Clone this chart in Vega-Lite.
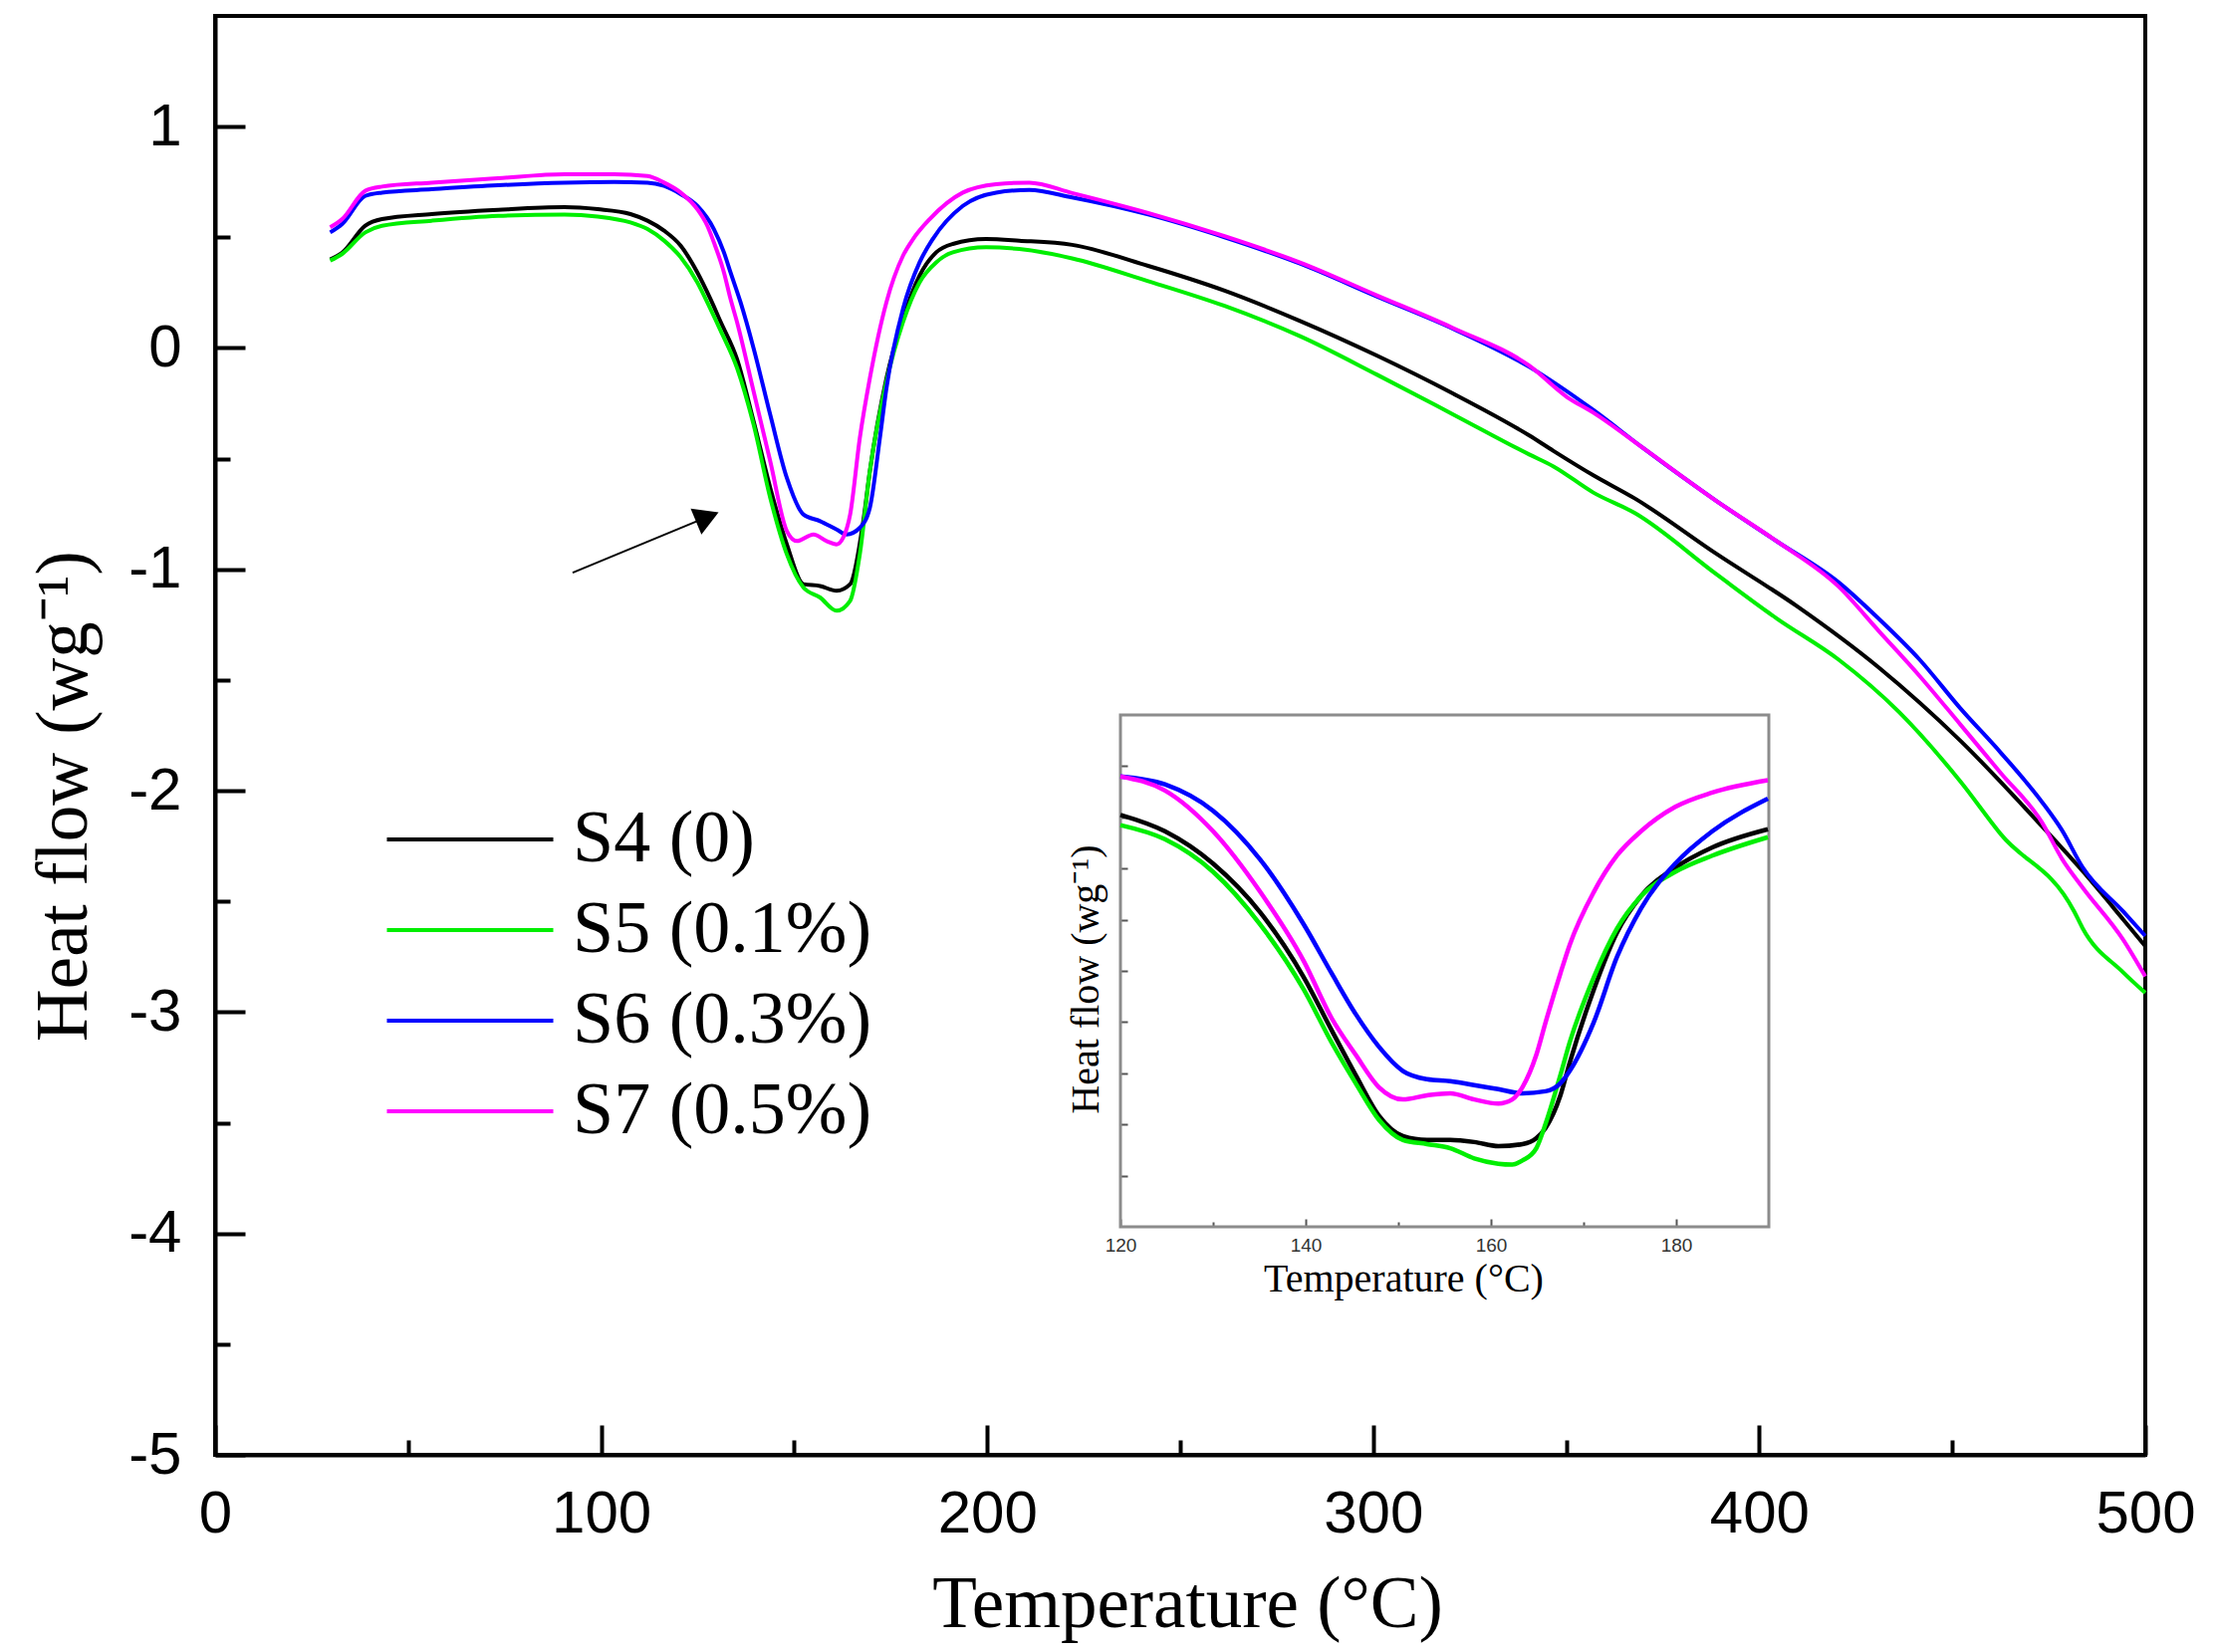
{
  "$schema": "https://vega.github.io/schema/vega-lite/v6.json",
  "width": 1938,
  "height": 1445,
  "autosize": "none",
  "padding": {"left": 216, "top": 16, "right": 72, "bottom": 198},
  "background": "white",
  "config": {
    "view": {"stroke": "black", "strokeWidth": 4},
    "axis": {
      "grid": false,
      "domainColor": "black",
      "domainWidth": 4,
      "tickColor": "black",
      "tickWidth": 4,
      "labelColor": "black",
      "titleColor": "black",
      "labelFont": "Liberation Sans",
      "titleFont": "Liberation Serif",
      "titleFontWeight": "normal",
      "labelOverlap": false,
      "labelFlush": false
    }
  },
  "datasets": {
    "curves": [
      {"sample": "S4 (0)", "temp": 29.8, "hf": 0.40},
      {"sample": "S4 (0)", "temp": 32.9, "hf": 0.43},
      {"sample": "S4 (0)", "temp": 38.9, "hf": 0.552},
      {"sample": "S4 (0)", "temp": 43.2, "hf": 0.582},
      {"sample": "S4 (0)", "temp": 56.1, "hf": 0.605},
      {"sample": "S4 (0)", "temp": 73.3, "hf": 0.624},
      {"sample": "S4 (0)", "temp": 90.5, "hf": 0.636},
      {"sample": "S4 (0)", "temp": 99.1, "hf": 0.627},
      {"sample": "S4 (0)", "temp": 107.6, "hf": 0.605},
      {"sample": "S4 (0)", "temp": 112, "hf": 0.575},
      {"sample": "S4 (0)", "temp": 116.3, "hf": 0.530},
      {"sample": "S4 (0)", "temp": 120.6, "hf": 0.462},
      {"sample": "S4 (0)", "temp": 124.9, "hf": 0.342},
      {"sample": "S4 (0)", "temp": 128.3, "hf": 0.222},
      {"sample": "S4 (0)", "temp": 130.9, "hf": 0.12},
      {"sample": "S4 (0)", "temp": 135.2, "hf": -0.05},
      {"sample": "S4 (0)", "temp": 139.5, "hf": -0.332},
      {"sample": "S4 (0)", "temp": 143.8, "hf": -0.632},
      {"sample": "S4 (0)", "temp": 148.1, "hf": -0.887},
      {"sample": "S4 (0)", "temp": 152.4, "hf": -1.067},
      {"sample": "S4 (0)", "temp": 156.7, "hf": -1.075},
      {"sample": "S4 (0)", "temp": 161.0, "hf": -1.097},
      {"sample": "S4 (0)", "temp": 164.5, "hf": -1.067},
      {"sample": "S4 (0)", "temp": 167.9, "hf": -0.782},
      {"sample": "S4 (0)", "temp": 169.6, "hf": -0.557},
      {"sample": "S4 (0)", "temp": 173.9, "hf": -0.137},
      {"sample": "S4 (0)", "temp": 178.2, "hf": 0.132},
      {"sample": "S4 (0)", "temp": 182.5, "hf": 0.327},
      {"sample": "S4 (0)", "temp": 186.8, "hf": 0.432},
      {"sample": "S4 (0)", "temp": 191.1, "hf": 0.470},
      {"sample": "S4 (0)", "temp": 199.7, "hf": 0.492},
      {"sample": "S4 (0)", "temp": 208.3, "hf": 0.485},
      {"sample": "S4 (0)", "temp": 222, "hf": 0.466},
      {"sample": "S4 (0)", "temp": 241.7, "hf": 0.371},
      {"sample": "S4 (0)", "temp": 261.5, "hf": 0.259},
      {"sample": "S4 (0)", "temp": 281.2, "hf": 0.121},
      {"sample": "S4 (0)", "temp": 300.9, "hf": -0.034},
      {"sample": "S4 (0)", "temp": 320.7, "hf": -0.206},
      {"sample": "S4 (0)", "temp": 340.4, "hf": -0.395},
      {"sample": "S4 (0)", "temp": 346.7, "hf": -0.465},
      {"sample": "S4 (0)", "temp": 357, "hf": -0.575},
      {"sample": "S4 (0)", "temp": 367.8, "hf": -0.68},
      {"sample": "S4 (0)", "temp": 388.9, "hf": -0.930},
      {"sample": "S4 (0)", "temp": 409.9, "hf": -1.168},
      {"sample": "S4 (0)", "temp": 431, "hf": -1.444},
      {"sample": "S4 (0)", "temp": 452.1, "hf": -1.774},
      {"sample": "S4 (0)", "temp": 473.2, "hf": -2.160},
      {"sample": "S4 (0)", "temp": 483.7, "hf": -2.362},
      {"sample": "S4 (0)", "temp": 494.3, "hf": -2.582},
      {"sample": "S4 (0)", "temp": 500, "hf": -2.702},

      {"sample": "S5 (0.1%)", "temp": 29.8, "hf": 0.395},
      {"sample": "S5 (0.1%)", "temp": 32.9, "hf": 0.425},
      {"sample": "S5 (0.1%)", "temp": 38.9, "hf": 0.522},
      {"sample": "S5 (0.1%)", "temp": 43.2, "hf": 0.552},
      {"sample": "S5 (0.1%)", "temp": 56.1, "hf": 0.575},
      {"sample": "S5 (0.1%)", "temp": 73.3, "hf": 0.597},
      {"sample": "S5 (0.1%)", "temp": 90.5, "hf": 0.603},
      {"sample": "S5 (0.1%)", "temp": 99.1, "hf": 0.594},
      {"sample": "S5 (0.1%)", "temp": 107.6, "hf": 0.567},
      {"sample": "S5 (0.1%)", "temp": 112, "hf": 0.537},
      {"sample": "S5 (0.1%)", "temp": 116.3, "hf": 0.485},
      {"sample": "S5 (0.1%)", "temp": 120.6, "hf": 0.410},
      {"sample": "S5 (0.1%)", "temp": 124.9, "hf": 0.297},
      {"sample": "S5 (0.1%)", "temp": 128.3, "hf": 0.177},
      {"sample": "S5 (0.1%)", "temp": 130.9, "hf": 0.08},
      {"sample": "S5 (0.1%)", "temp": 135.2, "hf": -0.09},
      {"sample": "S5 (0.1%)", "temp": 139.5, "hf": -0.347},
      {"sample": "S5 (0.1%)", "temp": 143.8, "hf": -0.677},
      {"sample": "S5 (0.1%)", "temp": 148.1, "hf": -0.932},
      {"sample": "S5 (0.1%)", "temp": 152.4, "hf": -1.082},
      {"sample": "S5 (0.1%)", "temp": 156.7, "hf": -1.127},
      {"sample": "S5 (0.1%)", "temp": 161.0, "hf": -1.187},
      {"sample": "S5 (0.1%)", "temp": 164.5, "hf": -1.142},
      {"sample": "S5 (0.1%)", "temp": 167.0, "hf": -0.932},
      {"sample": "S5 (0.1%)", "temp": 169.6, "hf": -0.557},
      {"sample": "S5 (0.1%)", "temp": 173.9, "hf": -0.152},
      {"sample": "S5 (0.1%)", "temp": 178.2, "hf": 0.117},
      {"sample": "S5 (0.1%)", "temp": 182.5, "hf": 0.297},
      {"sample": "S5 (0.1%)", "temp": 186.8, "hf": 0.387},
      {"sample": "S5 (0.1%)", "temp": 191.1, "hf": 0.432},
      {"sample": "S5 (0.1%)", "temp": 199.7, "hf": 0.455},
      {"sample": "S5 (0.1%)", "temp": 208.3, "hf": 0.447},
      {"sample": "S5 (0.1%)", "temp": 222, "hf": 0.405},
      {"sample": "S5 (0.1%)", "temp": 241.7, "hf": 0.302},
      {"sample": "S5 (0.1%)", "temp": 261.5, "hf": 0.190},
      {"sample": "S5 (0.1%)", "temp": 281.2, "hf": 0.052},
      {"sample": "S5 (0.1%)", "temp": 300.9, "hf": -0.120},
      {"sample": "S5 (0.1%)", "temp": 320.7, "hf": -0.300},
      {"sample": "S5 (0.1%)", "temp": 340.4, "hf": -0.481},
      {"sample": "S5 (0.1%)", "temp": 346.7, "hf": -0.535},
      {"sample": "S5 (0.1%)", "temp": 357, "hf": -0.653},
      {"sample": "S5 (0.1%)", "temp": 367.8, "hf": -0.746},
      {"sample": "S5 (0.1%)", "temp": 388.9, "hf": -1.022},
      {"sample": "S5 (0.1%)", "temp": 404.7, "hf": -1.224},
      {"sample": "S5 (0.1%)", "temp": 420.5, "hf": -1.407},
      {"sample": "S5 (0.1%)", "temp": 436.3, "hf": -1.646},
      {"sample": "S5 (0.1%)", "temp": 452.1, "hf": -1.958},
      {"sample": "S5 (0.1%)", "temp": 462.6, "hf": -2.197},
      {"sample": "S5 (0.1%)", "temp": 481.6, "hf": -2.546},
      {"sample": "S5 (0.1%)", "temp": 483.7, "hf": -2.619},
      {"sample": "S5 (0.1%)", "temp": 494.3, "hf": -2.821},
      {"sample": "S5 (0.1%)", "temp": 500, "hf": -2.913},

      {"sample": "S6 (0.3%)", "temp": 29.8, "hf": 0.522},
      {"sample": "S6 (0.3%)", "temp": 32.9, "hf": 0.560},
      {"sample": "S6 (0.3%)", "temp": 38.9, "hf": 0.687},
      {"sample": "S6 (0.3%)", "temp": 43.2, "hf": 0.702},
      {"sample": "S6 (0.3%)", "temp": 56.1, "hf": 0.717},
      {"sample": "S6 (0.3%)", "temp": 73.3, "hf": 0.735},
      {"sample": "S6 (0.3%)", "temp": 90.5, "hf": 0.747},
      {"sample": "S6 (0.3%)", "temp": 103.4, "hf": 0.750},
      {"sample": "S6 (0.3%)", "temp": 112, "hf": 0.747},
      {"sample": "S6 (0.3%)", "temp": 116.3, "hf": 0.732},
      {"sample": "S6 (0.3%)", "temp": 120.6, "hf": 0.695},
      {"sample": "S6 (0.3%)", "temp": 124.9, "hf": 0.642},
      {"sample": "S6 (0.3%)", "temp": 129.2, "hf": 0.537},
      {"sample": "S6 (0.3%)", "temp": 131.8, "hf": 0.432},
      {"sample": "S6 (0.3%)", "temp": 133.5, "hf": 0.342},
      {"sample": "S6 (0.3%)", "temp": 136.1, "hf": 0.207},
      {"sample": "S6 (0.3%)", "temp": 139.5, "hf": -0.002},
      {"sample": "S6 (0.3%)", "temp": 143.8, "hf": -0.302},
      {"sample": "S6 (0.3%)", "temp": 148.1, "hf": -0.587},
      {"sample": "S6 (0.3%)", "temp": 152.4, "hf": -0.752},
      {"sample": "S6 (0.3%)", "temp": 156.7, "hf": -0.782},
      {"sample": "S6 (0.3%)", "temp": 161.0, "hf": -0.820},
      {"sample": "S6 (0.3%)", "temp": 163.6, "hf": -0.842},
      {"sample": "S6 (0.3%)", "temp": 167.0, "hf": -0.812},
      {"sample": "S6 (0.3%)", "temp": 169.6, "hf": -0.722},
      {"sample": "S6 (0.3%)", "temp": 172.2, "hf": -0.407},
      {"sample": "S6 (0.3%)", "temp": 173.9, "hf": -0.182},
      {"sample": "S6 (0.3%)", "temp": 178.2, "hf": 0.177},
      {"sample": "S6 (0.3%)", "temp": 182.5, "hf": 0.387},
      {"sample": "S6 (0.3%)", "temp": 185.9, "hf": 0.492},
      {"sample": "S6 (0.3%)", "temp": 193.7, "hf": 0.642},
      {"sample": "S6 (0.3%)", "temp": 202.3, "hf": 0.702},
      {"sample": "S6 (0.3%)", "temp": 210.9, "hf": 0.714},
      {"sample": "S6 (0.3%)", "temp": 222, "hf": 0.68},
      {"sample": "S6 (0.3%)", "temp": 241.7, "hf": 0.603},
      {"sample": "S6 (0.3%)", "temp": 261.5, "hf": 0.500},
      {"sample": "S6 (0.3%)", "temp": 281.2, "hf": 0.380},
      {"sample": "S6 (0.3%)", "temp": 300.9, "hf": 0.233},
      {"sample": "S6 (0.3%)", "temp": 320.7, "hf": 0.087},
      {"sample": "S6 (0.3%)", "temp": 340.4, "hf": -0.085},
      {"sample": "S6 (0.3%)", "temp": 357, "hf": -0.28},
      {"sample": "S6 (0.3%)", "temp": 369.9, "hf": -0.452},
      {"sample": "S6 (0.3%)", "temp": 388.9, "hf": -0.691},
      {"sample": "S6 (0.3%)", "temp": 404.7, "hf": -0.875},
      {"sample": "S6 (0.3%)", "temp": 420.5, "hf": -1.058},
      {"sample": "S6 (0.3%)", "temp": 431, "hf": -1.224},
      {"sample": "S6 (0.3%)", "temp": 441.5, "hf": -1.407},
      {"sample": "S6 (0.3%)", "temp": 452.1, "hf": -1.628},
      {"sample": "S6 (0.3%)", "temp": 462.6, "hf": -1.829},
      {"sample": "S6 (0.3%)", "temp": 473.2, "hf": -2.050},
      {"sample": "S6 (0.3%)", "temp": 478.4, "hf": -2.178},
      {"sample": "S6 (0.3%)", "temp": 483.7, "hf": -2.344},
      {"sample": "S6 (0.3%)", "temp": 494.3, "hf": -2.546},
      {"sample": "S6 (0.3%)", "temp": 500, "hf": -2.656},

      {"sample": "S7 (0.5%)", "temp": 29.8, "hf": 0.545},
      {"sample": "S7 (0.5%)", "temp": 32.9, "hf": 0.582},
      {"sample": "S7 (0.5%)", "temp": 38.9, "hf": 0.710},
      {"sample": "S7 (0.5%)", "temp": 43.2, "hf": 0.729},
      {"sample": "S7 (0.5%)", "temp": 56.1, "hf": 0.747},
      {"sample": "S7 (0.5%)", "temp": 73.3, "hf": 0.767},
      {"sample": "S7 (0.5%)", "temp": 90.5, "hf": 0.785},
      {"sample": "S7 (0.5%)", "temp": 103.4, "hf": 0.785},
      {"sample": "S7 (0.5%)", "temp": 112, "hf": 0.777},
      {"sample": "S7 (0.5%)", "temp": 116.3, "hf": 0.747},
      {"sample": "S7 (0.5%)", "temp": 120.6, "hf": 0.702},
      {"sample": "S7 (0.5%)", "temp": 124.9, "hf": 0.627},
      {"sample": "S7 (0.5%)", "temp": 127.5, "hf": 0.552},
      {"sample": "S7 (0.5%)", "temp": 129.2, "hf": 0.477},
      {"sample": "S7 (0.5%)", "temp": 131.8, "hf": 0.342},
      {"sample": "S7 (0.5%)", "temp": 133.5, "hf": 0.222},
      {"sample": "S7 (0.5%)", "temp": 135.2, "hf": 0.117},
      {"sample": "S7 (0.5%)", "temp": 139.5, "hf": -0.197},
      {"sample": "S7 (0.5%)", "temp": 143.8, "hf": -0.512},
      {"sample": "S7 (0.5%)", "temp": 148.1, "hf": -0.827},
      {"sample": "S7 (0.5%)", "temp": 150.7, "hf": -0.872},
      {"sample": "S7 (0.5%)", "temp": 155, "hf": -0.842},
      {"sample": "S7 (0.5%)", "temp": 158.4, "hf": -0.872},
      {"sample": "S7 (0.5%)", "temp": 161, "hf": -0.887},
      {"sample": "S7 (0.5%)", "temp": 162.7, "hf": -0.857},
      {"sample": "S7 (0.5%)", "temp": 164.5, "hf": -0.752},
      {"sample": "S7 (0.5%)", "temp": 167, "hf": -0.407},
      {"sample": "S7 (0.5%)", "temp": 169.6, "hf": -0.137},
      {"sample": "S7 (0.5%)", "temp": 173.9, "hf": 0.207},
      {"sample": "S7 (0.5%)", "temp": 178.2, "hf": 0.417},
      {"sample": "S7 (0.5%)", "temp": 180.8, "hf": 0.492},
      {"sample": "S7 (0.5%)", "temp": 185.1, "hf": 0.582},
      {"sample": "S7 (0.5%)", "temp": 193.7, "hf": 0.702},
      {"sample": "S7 (0.5%)", "temp": 202.3, "hf": 0.740},
      {"sample": "S7 (0.5%)", "temp": 210.9, "hf": 0.747},
      {"sample": "S7 (0.5%)", "temp": 222, "hf": 0.70},
      {"sample": "S7 (0.5%)", "temp": 241.7, "hf": 0.61},
      {"sample": "S7 (0.5%)", "temp": 261.5, "hf": 0.505},
      {"sample": "S7 (0.5%)", "temp": 281.2, "hf": 0.385},
      {"sample": "S7 (0.5%)", "temp": 300.9, "hf": 0.238},
      {"sample": "S7 (0.5%)", "temp": 320.7, "hf": 0.09},
      {"sample": "S7 (0.5%)", "temp": 340.4, "hf": -0.08},
      {"sample": "S7 (0.5%)", "temp": 350.3, "hf": -0.223},
      {"sample": "S7 (0.5%)", "temp": 357, "hf": -0.292},
      {"sample": "S7 (0.5%)", "temp": 369.9, "hf": -0.452},
      {"sample": "S7 (0.5%)", "temp": 388.9, "hf": -0.691},
      {"sample": "S7 (0.5%)", "temp": 404.7, "hf": -0.875},
      {"sample": "S7 (0.5%)", "temp": 420.5, "hf": -1.077},
      {"sample": "S7 (0.5%)", "temp": 431, "hf": -1.279},
      {"sample": "S7 (0.5%)", "temp": 441.5, "hf": -1.481},
      {"sample": "S7 (0.5%)", "temp": 452.1, "hf": -1.701},
      {"sample": "S7 (0.5%)", "temp": 462.6, "hf": -1.921},
      {"sample": "S7 (0.5%)", "temp": 473.2, "hf": -2.142},
      {"sample": "S7 (0.5%)", "temp": 478.4, "hf": -2.307},
      {"sample": "S7 (0.5%)", "temp": 483.7, "hf": -2.436},
      {"sample": "S7 (0.5%)", "temp": 494.3, "hf": -2.674},
      {"sample": "S7 (0.5%)", "temp": 500, "hf": -2.839}
    ],
    "zoom": [
      {"sample": "S4 (0)", "temp": 120, "hf": 0.512},
      {"sample": "S4 (0)", "temp": 124.8, "hf": 0.432},
      {"sample": "S4 (0)", "temp": 130, "hf": 0.274},
      {"sample": "S4 (0)", "temp": 135.1, "hf": 0.035},
      {"sample": "S4 (0)", "temp": 139.8, "hf": -0.282},
      {"sample": "S4 (0)", "temp": 142.8, "hf": -0.540},
      {"sample": "S4 (0)", "temp": 145.4, "hf": -0.759},
      {"sample": "S4 (0)", "temp": 147.9, "hf": -0.957},
      {"sample": "S4 (0)", "temp": 150.5, "hf": -1.057},
      {"sample": "S4 (0)", "temp": 153.1, "hf": -1.076},
      {"sample": "S4 (0)", "temp": 155.6, "hf": -1.076},
      {"sample": "S4 (0)", "temp": 158.2, "hf": -1.086},
      {"sample": "S4 (0)", "temp": 160.8, "hf": -1.106},
      {"sample": "S4 (0)", "temp": 163.4, "hf": -1.096},
      {"sample": "S4 (0)", "temp": 164.9, "hf": -1.067},
      {"sample": "S4 (0)", "temp": 165.9, "hf": -1.017},
      {"sample": "S4 (0)", "temp": 167.5, "hf": -0.858},
      {"sample": "S4 (0)", "temp": 168.5, "hf": -0.699},
      {"sample": "S4 (0)", "temp": 171.1, "hf": -0.342},
      {"sample": "S4 (0)", "temp": 173.6, "hf": -0.064},
      {"sample": "S4 (0)", "temp": 176.2, "hf": 0.115},
      {"sample": "S4 (0)", "temp": 179.9, "hf": 0.254},
      {"sample": "S4 (0)", "temp": 183.9, "hf": 0.353},
      {"sample": "S4 (0)", "temp": 189.9, "hf": 0.442},

      {"sample": "S5 (0.1%)", "temp": 120, "hf": 0.462},
      {"sample": "S5 (0.1%)", "temp": 124.8, "hf": 0.393},
      {"sample": "S5 (0.1%)", "temp": 130, "hf": 0.234},
      {"sample": "S5 (0.1%)", "temp": 135.1, "hf": -0.024},
      {"sample": "S5 (0.1%)", "temp": 139.8, "hf": -0.342},
      {"sample": "S5 (0.1%)", "temp": 142.8, "hf": -0.600},
      {"sample": "S5 (0.1%)", "temp": 145.4, "hf": -0.799},
      {"sample": "S5 (0.1%)", "temp": 147.9, "hf": -0.977},
      {"sample": "S5 (0.1%)", "temp": 150.5, "hf": -1.076},
      {"sample": "S5 (0.1%)", "temp": 153.1, "hf": -1.096},
      {"sample": "S5 (0.1%)", "temp": 155.6, "hf": -1.116},
      {"sample": "S5 (0.1%)", "temp": 158.2, "hf": -1.166},
      {"sample": "S5 (0.1%)", "temp": 160.8, "hf": -1.192},
      {"sample": "S5 (0.1%)", "temp": 162.3, "hf": -1.196},
      {"sample": "S5 (0.1%)", "temp": 163.4, "hf": -1.176},
      {"sample": "S5 (0.1%)", "temp": 164.9, "hf": -1.116},
      {"sample": "S5 (0.1%)", "temp": 165.9, "hf": -0.997},
      {"sample": "S5 (0.1%)", "temp": 167.5, "hf": -0.759},
      {"sample": "S5 (0.1%)", "temp": 168.5, "hf": -0.600},
      {"sample": "S5 (0.1%)", "temp": 171.1, "hf": -0.282},
      {"sample": "S5 (0.1%)", "temp": 173.6, "hf": -0.044},
      {"sample": "S5 (0.1%)", "temp": 176.2, "hf": 0.115},
      {"sample": "S5 (0.1%)", "temp": 179.9, "hf": 0.234},
      {"sample": "S5 (0.1%)", "temp": 183.9, "hf": 0.313},
      {"sample": "S5 (0.1%)", "temp": 189.9, "hf": 0.403},

      {"sample": "S6 (0.3%)", "temp": 120, "hf": 0.700},
      {"sample": "S6 (0.3%)", "temp": 124.8, "hf": 0.661},
      {"sample": "S6 (0.3%)", "temp": 130, "hf": 0.532},
      {"sample": "S6 (0.3%)", "temp": 135.1, "hf": 0.293},
      {"sample": "S6 (0.3%)", "temp": 139.8, "hf": -0.024},
      {"sample": "S6 (0.3%)", "temp": 142.8, "hf": -0.262},
      {"sample": "S6 (0.3%)", "temp": 145.4, "hf": -0.461},
      {"sample": "S6 (0.3%)", "temp": 147.9, "hf": -0.620},
      {"sample": "S6 (0.3%)", "temp": 150.5, "hf": -0.739},
      {"sample": "S6 (0.3%)", "temp": 153.1, "hf": -0.779},
      {"sample": "S6 (0.3%)", "temp": 155.6, "hf": -0.789},
      {"sample": "S6 (0.3%)", "temp": 158.2, "hf": -0.808},
      {"sample": "S6 (0.3%)", "temp": 160.8, "hf": -0.828},
      {"sample": "S6 (0.3%)", "temp": 163.4, "hf": -0.848},
      {"sample": "S6 (0.3%)", "temp": 165.9, "hf": -0.838},
      {"sample": "S6 (0.3%)", "temp": 167.5, "hf": -0.799},
      {"sample": "S6 (0.3%)", "temp": 168.5, "hf": -0.739},
      {"sample": "S6 (0.3%)", "temp": 171.1, "hf": -0.501},
      {"sample": "S6 (0.3%)", "temp": 173.6, "hf": -0.183},
      {"sample": "S6 (0.3%)", "temp": 176.2, "hf": 0.055},
      {"sample": "S6 (0.3%)", "temp": 179.9, "hf": 0.274},
      {"sample": "S6 (0.3%)", "temp": 183.9, "hf": 0.432},
      {"sample": "S6 (0.3%)", "temp": 189.9, "hf": 0.591},

      {"sample": "S7 (0.5%)", "temp": 120, "hf": 0.700},
      {"sample": "S7 (0.5%)", "temp": 124.8, "hf": 0.631},
      {"sample": "S7 (0.5%)", "temp": 130, "hf": 0.432},
      {"sample": "S7 (0.5%)", "temp": 135.1, "hf": 0.135},
      {"sample": "S7 (0.5%)", "temp": 139.8, "hf": -0.203},
      {"sample": "S7 (0.5%)", "temp": 142.8, "hf": -0.481},
      {"sample": "S7 (0.5%)", "temp": 145.4, "hf": -0.660},
      {"sample": "S7 (0.5%)", "temp": 147.9, "hf": -0.818},
      {"sample": "S7 (0.5%)", "temp": 150.5, "hf": -0.878},
      {"sample": "S7 (0.5%)", "temp": 153.1, "hf": -0.858},
      {"sample": "S7 (0.5%)", "temp": 155.6, "hf": -0.848},
      {"sample": "S7 (0.5%)", "temp": 158.2, "hf": -0.878},
      {"sample": "S7 (0.5%)", "temp": 160.8, "hf": -0.898},
      {"sample": "S7 (0.5%)", "temp": 162.3, "hf": -0.878},
      {"sample": "S7 (0.5%)", "temp": 163.4, "hf": -0.818},
      {"sample": "S7 (0.5%)", "temp": 164.9, "hf": -0.660},
      {"sample": "S7 (0.5%)", "temp": 165.9, "hf": -0.501},
      {"sample": "S7 (0.5%)", "temp": 167.5, "hf": -0.262},
      {"sample": "S7 (0.5%)", "temp": 168.5, "hf": -0.123},
      {"sample": "S7 (0.5%)", "temp": 171.1, "hf": 0.135},
      {"sample": "S7 (0.5%)", "temp": 173.6, "hf": 0.313},
      {"sample": "S7 (0.5%)", "temp": 176.2, "hf": 0.432},
      {"sample": "S7 (0.5%)", "temp": 179.9, "hf": 0.551},
      {"sample": "S7 (0.5%)", "temp": 183.9, "hf": 0.621},
      {"sample": "S7 (0.5%)", "temp": 189.9, "hf": 0.681}
    ],
    "arrow": [{"temp": 92.6, "hf": -1.015, "temp2": 127.5, "hf2": -0.763}],
    "frame": [{"temp": 120, "temp2": 190, "hf": -1.5, "hf2": 1.0}]
  },
  "layer": [
    {
      "layer": [
        {
          "data": {"name": "curves"},
          "mark": {"type": "line", "strokeWidth": 4, "interpolate": "monotone"},
          "encoding": {
            "x": {
              "field": "temp",
              "type": "quantitative",
              "scale": {"domain": [0, 500], "nice": false, "zero": false},
              "axis": {
                "title": "Temperature (°C)",
                "values": [0, 50, 100, 150, 200, 250, 300, 350, 400, 450, 500],
                "labelExpr": "datum.value % 100 === 0 ? datum.label : ''",
                "tickSize": {"condition": {"test": "datum.value % 100 !== 0", "value": -15}, "value": -30},
                "labelFontSize": 60,
                "labelPadding": 60,
                "titleFontSize": 73,
                "titleX": 976,
                "titleY": 172,
                "titleAlign": "center",
                "titleBaseline": "alphabetic"
              }
            },
            "y": {
              "field": "hf",
              "type": "quantitative",
              "scale": {"domain": [-5, 1.5], "nice": false, "zero": false},
              "axis": {
                "title": "Heat flow (wg⁻¹)",
                "values": [-5, -4.5, -4, -3.5, -3, -2.5, -2, -1.5, -1, -0.5, 0, 0.5, 1],
                "labelExpr": "datum.value % 1 === 0 ? '' + datum.value : ''",
                "tickSize": {"condition": {"test": "datum.value % 1 !== 0", "value": -15}, "value": -30},
                "labelFontSize": 60,
                "labelPadding": 64,
                "titleFontSize": 73,
                "titleAngle": 270,
                "titleX": -130,
                "titleY": 783,
                "titleAlign": "center",
                "titleBaseline": "alphabetic"
              }
            },
            "color": {
              "field": "sample",
              "type": "nominal",
              "scale": {
                "domain": ["S4 (0)", "S5 (0.1%)", "S6 (0.3%)", "S7 (0.5%)"],
                "range": ["#000000", "#00ee00", "#0000ff", "#ff00ff"]
              },
              "legend": {
                "orient": "none",
                "legendX": 219,
                "legendY": 790,
                "title": null,
                "padding": 0,
                "symbolType": "M-8,0H8",
                "symbolSize": 436,
                "symbolStrokeWidth": 4,
                "labelFont": "Liberation Serif",
                "labelFontSize": 74,
                "labelColor": "black",
                "labelOffset": 66,
                "labelLimit": 0,
                "rowPadding": 17
              }
            }
          }
        },
        {
          "data": {"name": "arrow"},
          "mark": {"type": "rule", "strokeWidth": 2, "color": "black"},
          "encoding": {
            "x": {"field": "temp", "type": "quantitative"},
            "y": {"field": "hf", "type": "quantitative"},
            "x2": {"field": "temp2"},
            "y2": {"field": "hf2"}
          }
        },
        {
          "data": {"name": "arrow"},
          "mark": {"type": "point", "shape": "triangle-right", "filled": true, "color": "black", "opacity": 1, "size": 800, "angle": 337.5},
          "encoding": {
            "x": {"field": "temp2", "type": "quantitative"},
            "y": {"field": "hf2", "type": "quantitative"}
          }
        }
      ]
    },
    {
      "layer": [
        {
          "data": {"name": "frame"},
          "mark": {"type": "rect", "filled": false, "stroke": "#8c8c8c", "strokeWidth": 3},
          "encoding": {
            "x": {"field": "temp", "type": "quantitative"},
            "x2": {"field": "temp2"},
            "y": {"field": "hf", "type": "quantitative"},
            "y2": {"field": "hf2"}
          }
        },
        {
          "data": {"name": "zoom"},
          "mark": {"type": "line", "strokeWidth": 4.5, "interpolate": "monotone"},
          "encoding": {
            "x": {
              "field": "temp",
              "type": "quantitative",
              "scale": {"domain": [120, 190], "range": [909, 1560], "nice": false, "zero": false},
              "axis": {
                "orient": "bottom",
                "offset": -229,
                "domain": false,
                "title": "Temperature (°C)",
                "values": [120, 130, 140, 150, 160, 170, 180],
                "labelExpr": "datum.value % 20 === 0 ? datum.label : ''",
                "tickSize": {"condition": {"test": "datum.value % 20 !== 0", "value": -5}, "value": -8},
                "tickColor": "#555555",
                "tickWidth": 2,
                "labelFontSize": 19,
                "labelColor": "#333333",
                "labelPadding": 17,
                "titleFontSize": 40,
                "titleX": 1193,
                "titleY": 64,
                "titleAlign": "center",
                "titleBaseline": "alphabetic"
              }
            },
            "y": {
              "field": "hf",
              "type": "quantitative",
              "scale": {"domain": [-1.5, 1.0], "range": [1216, 702], "nice": false, "zero": false},
              "axis": {
                "orient": "left",
                "offset": -909,
                "domain": false,
                "labels": false,
                "title": "Heat flow (wg⁻¹)",
                "values": [-1.25, -1, -0.75, -0.5, -0.25, 0, 0.25, 0.5, 0.75],
                "tickSize": -7,
                "tickColor": "#555555",
                "tickWidth": 2,
                "titleFontSize": 40,
                "titleAngle": 270,
                "titleX": -23,
                "titleY": 967,
                "titleAlign": "center",
                "titleBaseline": "alphabetic"
              }
            },
            "color": {"field": "sample", "type": "nominal"}
          }
        }
      ]
    }
  ],
  "resolve": {
    "scale": {"x": "independent", "y": "independent"},
    "axis": {"x": "independent", "y": "independent"}
  }
}
